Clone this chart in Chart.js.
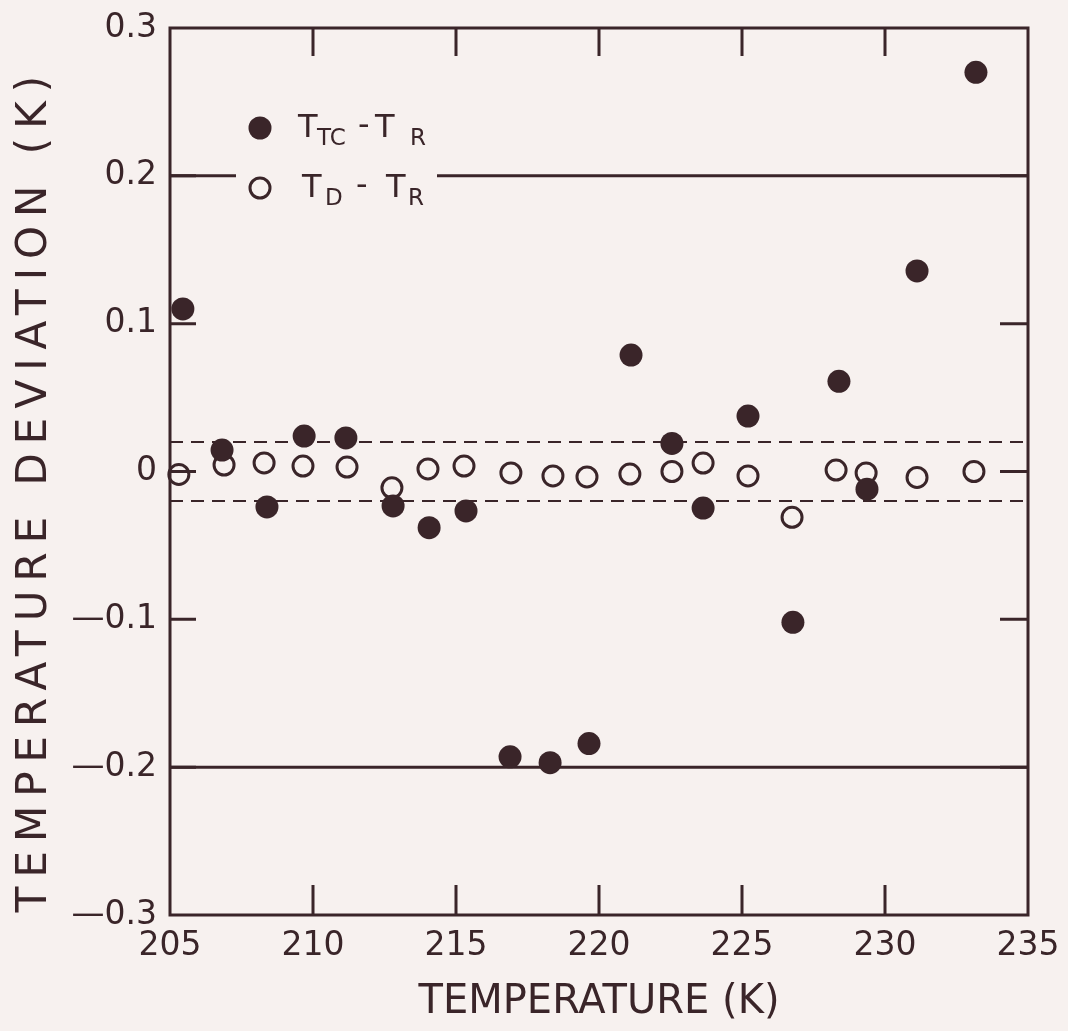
<!DOCTYPE html>
<html><head><meta charset="utf-8">
<script src="https://cdn.jsdelivr.net/npm/chart.js@4.4.0/dist/chart.umd.min.js"></script>
<style>html,body{margin:0;padding:0;background:#f7f1ef;}canvas{display:block;}</style>
</head><body>
<canvas id="c" width="1068" height="1031"></canvas>
<script>
// ---- data ----
const tempTC = [205.45, 206.82, 208.39, 209.69, 211.15, 212.80, 214.06, 215.35, 216.89, 218.29,
                219.65, 221.12, 222.55, 223.64, 225.21, 226.78, 228.39, 229.37, 231.12, 233.18];
const devTC  = [0.110, 0.0145, -0.024, 0.024, 0.0227, -0.0233, -0.038, -0.0267, -0.193, -0.197,
                -0.184, 0.0788, 0.019, -0.0247, 0.0375, -0.102, 0.061, -0.012, 0.1357, 0.270];
const tempD  = [205.31, 206.89, 208.29, 209.65, 211.19, 212.76, 214.02, 215.28, 216.92, 218.39,
                219.58, 221.08, 222.55, 223.64, 225.21, 226.75, 228.29, 229.34, 231.12, 233.11];
const devD   = [-0.002, 0.0044, 0.0058, 0.0037, 0.003, -0.011, 0.0017, 0.0037, -0.001, -0.003,
                -0.0037, -0.0017, 0.0, 0.0057, -0.003, -0.031, 0.001, -0.001, -0.004, 0.0];
const xTickLabels = ['205', '210', '215', '220', '225', '230', '235'];
const yTickLabels = ['\u20140.3', '\u20140.2', '\u20140.1', '0', '0.1', '0.2', '0.3'];
const limitLines = [0.2, -0.2];
const bandLines = [0.02, -0.02];
const xRange = [205, 235];
const yRange = [-0.3, 0.3];
const legendLabels = [
  [{t: 'T'}, {t: 'TC', sub: true}, {t: '-'}, {t: 'T'}, {t: 'R', sub: true}],
  [{t: 'T'}, {t: 'D', sub: true}, {t: '-'}, {t: 'T'}, {t: 'R', sub: true}]
];
const xTitle = 'TEMPERATURE (K)';
const yTitle = 'TEMPERATURE DEVIATION (K)';

// ---- styling ----
const INK = '#3a2529';
const BG = '#f7f1ef';
const FONT = "'DejaVu Sans', sans-serif";

const pts = (xs, ys) => xs.map((x, i) => ({x: x, y: ys[i]}));
const hline = v => [{x: xRange[0], y: v}, {x: xRange[1], y: v}];

const datasets = [];
limitLines.forEach(v => datasets.push({type: 'line', data: hline(v), borderColor: INK, borderWidth: 3,
  pointRadius: 0, order: 5, clip: false}));
bandLines.forEach(v => datasets.push({type: 'line', data: hline(v), borderColor: INK, borderWidth: 2,
  borderDash: [13, 8], pointRadius: 0, order: 5}));
datasets.push({label: 'TD - TR', data: pts(tempD, devD), pointRadius: 10, pointBorderWidth: 3,
  pointBorderColor: INK, pointBackgroundColor: 'rgba(0,0,0,0)', showLine: false, order: 2, clip: false});
datasets.push({label: 'TTC - TR', data: pts(tempTC, devTC), pointRadius: 11.5, pointBorderWidth: 0,
  pointBackgroundColor: INK, showLine: false, order: 1, clip: false});

const framePlugin = {
  id: 'frame',
  afterLayout(chart) {
    const ys = chart.scales.y;
    if (!ys._lsPatched) {
      const orig = ys.drawTitle;
      ys.drawTitle = function () {
        const ctx = this.ctx;
        ctx.save();
        ctx.translate(0, 18);
        ctx.letterSpacing = '9px';
        orig.apply(this, arguments);
        ctx.restore();
      };
      ys._lsPatched = true;
    }
  },
  afterDatasetsDraw(chart) {
    const {ctx, chartArea: a, scales: {x, y}} = chart;
    ctx.save();
    ctx.strokeStyle = INK;
    ctx.lineWidth = 3;
    ctx.strokeRect(a.left, a.top, a.right - a.left, a.bottom - a.top);
    // inner tick marks on all four sides
    [210, 215, 220, 225, 230].forEach(v => {
      const px = x.getPixelForValue(v);
      ctx.beginPath();
      ctx.moveTo(px, a.top); ctx.lineTo(px, a.top + 28);
      ctx.moveTo(px, a.bottom); ctx.lineTo(px, a.bottom - 30);
      ctx.stroke();
    });
    [-0.2, -0.1, 0, 0.1, 0.2].forEach(v => {
      const py = y.getPixelForValue(v);
      ctx.beginPath();
      ctx.moveTo(a.left, py); ctx.lineTo(a.left + 26, py);
      ctx.moveTo(a.right, py); ctx.lineTo(a.right - 28, py);
      ctx.stroke();
    });
    ctx.restore();
  },
  afterDraw(chart) {
    const ctx = chart.ctx;
    const y02 = chart.scales.y.getPixelForValue(limitLines[0]);
    ctx.save();
    // gap in the 0.2 line behind the legend
    ctx.fillStyle = BG;
    ctx.fillRect(236, y02 - 7, 201, 14);
    // legend markers
    ctx.fillStyle = INK;
    ctx.beginPath(); ctx.arc(260, 128, 11.5, 0, Math.PI * 2); ctx.fill();
    ctx.strokeStyle = INK; ctx.lineWidth = 3;
    ctx.beginPath(); ctx.arc(260, 188, 10, 0, Math.PI * 2); ctx.stroke();
    // legend text
    const rows = [
      {base: 137, xs: [298, 317, 358, 375, 410]},
      {base: 197, xs: [302, 325, 356, 386, 408]}
    ];
    ctx.textBaseline = 'alphabetic';
    ctx.textAlign = 'left';
    legendLabels.forEach((parts, r) => {
      parts.forEach((p, i) => {
        ctx.font = (p.sub ? '23px ' : '32px ') + FONT;
        ctx.fillText(p.t, rows[r].xs[i], rows[r].base + (p.sub ? 8 : 0) - (p.t === '-' ? 2 : 0));
      });
    });
    ctx.restore();
  }
};

new Chart(document.getElementById('c'), {
  type: 'scatter',
  data: {datasets: datasets},
  options: {
    responsive: false,
    animation: false,
    events: [],
    layout: {padding: {top: 28, right: 40, left: 0, bottom: 0}},
    plugins: {legend: {display: false}, tooltip: {enabled: false}},
    scales: {
      x: {
        type: 'linear', min: xRange[0], max: xRange[1],
        afterFit: s => { s.height = 116; s.paddingLeft = 0; s.paddingRight = 0; },
        afterBuildTicks: s => { s.ticks = xTickLabels.map(t => ({value: Number(t)})); },
        grid: {display: false, drawTicks: false},
        border: {display: false},
        ticks: {color: INK, font: {family: FONT, size: 33}, padding: 12, maxRotation: 0,
          callback: (v, i) => xTickLabels[i]},
        title: {display: true, text: xTitle, color: INK, font: {family: FONT, size: 40},
          padding: {top: 0, bottom: 4}}
      },
      y: {
        type: 'linear', min: yRange[0], max: yRange[1],
        afterFit: s => { s.width = 170; s.paddingTop = 0; s.paddingBottom = 0; },
        afterBuildTicks: s => { s.ticks = yTickLabels.map((t, i) => ({value: yRange[0] + i * 0.1})); },
        grid: {display: false, drawTicks: false},
        border: {display: false},
        ticks: {color: INK, font: {family: FONT, size: 33}, padding: 13,
          callback: (v, i) => yTickLabels[i]},
        title: {display: true, text: yTitle, color: INK, font: {family: FONT, size: 42},
          padding: {top: 10, bottom: 0}}
      }
    }
  },
  plugins: [framePlugin]
});
</script>
</body></html>
